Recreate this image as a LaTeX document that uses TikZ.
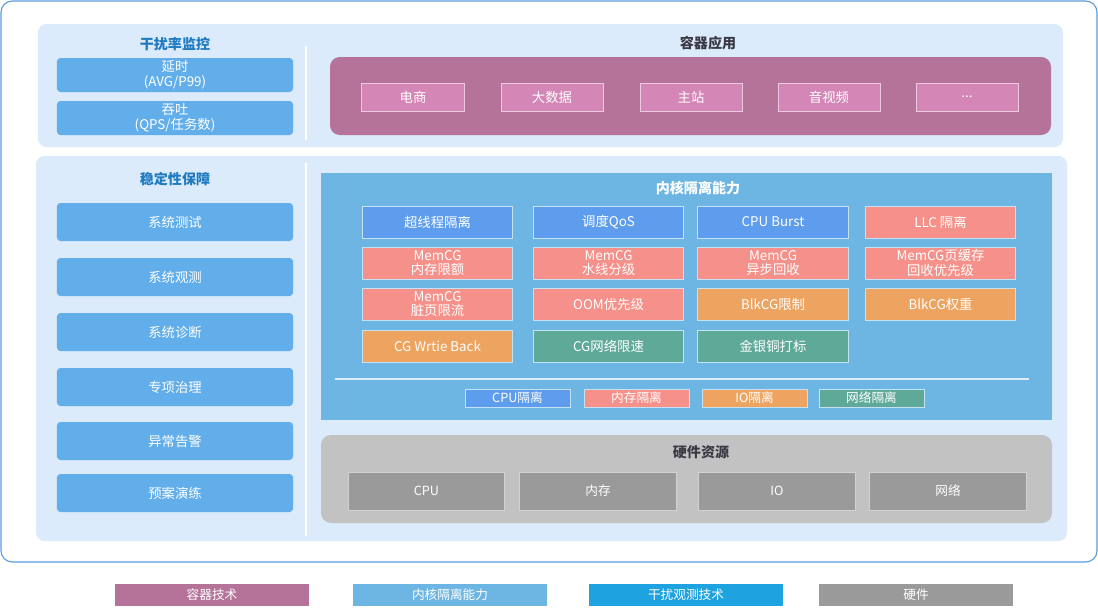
\documentclass[tikz,border=0pt]{standalone}
\usepackage{fontspec}
\setmainfont{Noto Sans CJK SC}
\usepackage{xcolor}
\usetikzlibrary{positioning}

\definecolor{frameblue}{HTML}{5A9BDE}
\definecolor{panelbg}{HTML}{DBEBFB}
\definecolor{monblue}{HTML}{62AEEB}
\definecolor{titleblue}{HTML}{1F7AC0}
\definecolor{apppanel}{HTML}{B5739A}
\definecolor{appbox}{HTML}{D486B6}
\definecolor{kernelbg}{HTML}{6DB6E3}
\definecolor{kblue}{HTML}{5E9DED}
\definecolor{ksalmon}{HTML}{F5918A}
\definecolor{korange}{HTML}{EDA460}
\definecolor{kteal}{HTML}{5EA997}
\definecolor{hwpanel}{HTML}{C2C2C2}
\definecolor{hwbox}{HTML}{9A9A9A}
\definecolor{obscyan}{HTML}{1FA2E0}
\definecolor{darktext}{HTML}{3A3A44}

\begin{document}
\begin{tikzpicture}[x=0.025cm, y=-0.025cm,
  every node/.style={font=\fontsize{9.5}{10.5}\selectfont, text=white, align=center, inner sep=0pt},
  title/.style={font=\fontsize{10}{12}\selectfont\bfseries},
  monbox/.style={fill=monblue, rounded corners=2.5pt, minimum width=5.9cm, minimum height=0.85cm},
  guardbox/.style={monbox, minimum height=0.95cm},
  appbox/.style={fill=appbox, draw=white!55!appbox, line width=0.7pt, minimum width=2.55cm, minimum height=0.7cm},
  kbox/.style={draw=white!60!kernelbg, line width=0.7pt, minimum width=3.75cm, minimum height=0.8cm},
  tagbox/.style={draw=white!60!kernelbg, line width=0.6pt, minimum width=2.625cm, minimum height=0.45cm, font=\fontsize{9}{10}\selectfont},
  hwbox/.style={fill=hwbox, draw=white!55!hwbox, line width=0.7pt, minimum width=3.9cm, minimum height=0.95cm, font=\fontsize{9}{10}\selectfont},
  legendbox/.style={minimum width=4.85cm, minimum height=0.55cm, font=\fontsize{9}{10}\selectfont}]
  \useasboundingbox (0,0) rectangle (1098,608);

  % Frame
  \draw[frameblue, line width=0.8pt, rounded corners=8pt, fill=white] (1,1) rectangle (1097,562);

  % Top panel
  \fill[panelbg, rounded corners=6pt] (38,24) rectangle (1063,147);
  \draw[white, line width=0.8pt] (306,46) -- (306,140);
  \node[title, text=titleblue] (montitle) at (175,44) {干扰率监控};
  \node[monbox] (latency) at (175,75) {延时\\(AVG/P99)};
  \node[monbox] (thruput) at (175,118) {吞吐\\(QPS/任务数)};

  \node[title, text=darktext] (apptitle) at (708,43) {容器应用};
  \fill[apppanel, rounded corners=7pt] (330,57) rectangle (1051,135);
  \node[appbox] (ecom)   at (413,97) {电商};
  \node[appbox] (bigdata) at (552,97) {大数据};
  \node[appbox] (mainsite) at (691,97) {主站};
  \node[appbox] (media)  at (829,97) {音视频};
  \node[appbox] (more)   at (967,97) {...};

  % Middle panel
  \fill[panelbg, rounded corners=6pt] (36,156) rectangle (1067,541);
  \draw[white, line width=0.8pt] (306,163) -- (306,536);
  \node[title, text=titleblue] (guardtitle) at (175,179) {稳定性保障};
  \node[guardbox] (systest)  at (175,222) {系统测试};
  \node[guardbox] (sysobs)   at (175,277) {系统观测};
  \node[guardbox] (sysdiag)  at (175,332) {系统诊断};
  \node[guardbox] (special)  at (175,387) {专项治理};
  \node[guardbox] (alarm)    at (175,441) {异常告警};
  \node[guardbox] (drill)    at (175,493) {预案演练};

  % Kernel isolation
  \fill[kernelbg] (321,173) rectangle (1052,420);
  \node[title] (kerneltitle) at (698,188) {内核隔离能力};
  \node[kbox, fill=kblue]   (ht)     at (437.5,222) {超线程隔离};
  \node[kbox, fill=kblue]   (qos)    at (608.5,222) {调度QoS};
  \node[kbox, fill=kblue]   (burst)  at (773,222)   {CPU Burst};
  \node[kbox, fill=ksalmon] (llc)    at (940.5,222) {LLC 隔离};
  \node[kbox, fill=ksalmon] (memlim) at (437.5,263) {MemCG\\内存限额};
  \node[kbox, fill=ksalmon] (memwm)  at (608.5,263) {MemCG\\水线分级};
  \node[kbox, fill=ksalmon] (memasync) at (773,263) {MemCG\\异步回收};
  \node[kbox, fill=ksalmon] (memcache) at (940.5,263) {MemCG页缓存\\回收优先级};
  \node[kbox, fill=ksalmon] (memdirty) at (437.5,304) {MemCG\\脏页限流};
  \node[kbox, fill=ksalmon] (oom)    at (608.5,304) {OOM优先级};
  \node[kbox, fill=korange] (blklim) at (773,304)   {BlkCG限制};
  \node[kbox, fill=korange] (blkwt)  at (940.5,304) {BlkCG权重};
  \node[kbox, fill=korange] (wb)     at (437.5,346) {CG Wrtie Back};
  \node[kbox, fill=kteal]   (netlim) at (608.5,346) {CG网络限速};
  \node[kbox, fill=kteal]   (mark)   at (773,346)   {金银铜打标};
  \draw[white!75!kernelbg, line width=0.8pt] (335,379) -- (1029,379);
  \node[tagbox, fill=kblue]   (tagcpu) at (517.5,398) {CPU隔离};
  \node[tagbox, fill=ksalmon] (tagmem) at (636.5,398) {内存隔离};
  \node[tagbox, fill=korange] (tagio)  at (754.5,398) {IO隔离};
  \node[tagbox, fill=kteal]   (tagnet) at (871.5,398) {网络隔离};

  % Hardware
  \fill[hwpanel, rounded corners=7pt] (321,435) rectangle (1052,523);
  \node[title, text=darktext] (hwtitle) at (701,452) {硬件资源};
  \node[hwbox] (cpu) at (426.5,491) {CPU};
  \node[hwbox] (mem) at (598,491)   {内存};
  \node[hwbox] (io)  at (777,491)   {IO};
  \node[hwbox] (net) at (948,491)   {网络};

  % Legend
  \node[legendbox, fill=apppanel] (lgapp)    at (212,595) {容器技术};
  \node[legendbox, fill=kernelbg] (lgkernel) at (450,595) {内核隔离能力};
  \node[legendbox, fill=obscyan]  (lgobs)    at (686,595) {干扰观测技术};
  \node[legendbox, fill=hwbox]    (lghw)     at (916,595) {硬件};
\end{tikzpicture}
\end{document}
